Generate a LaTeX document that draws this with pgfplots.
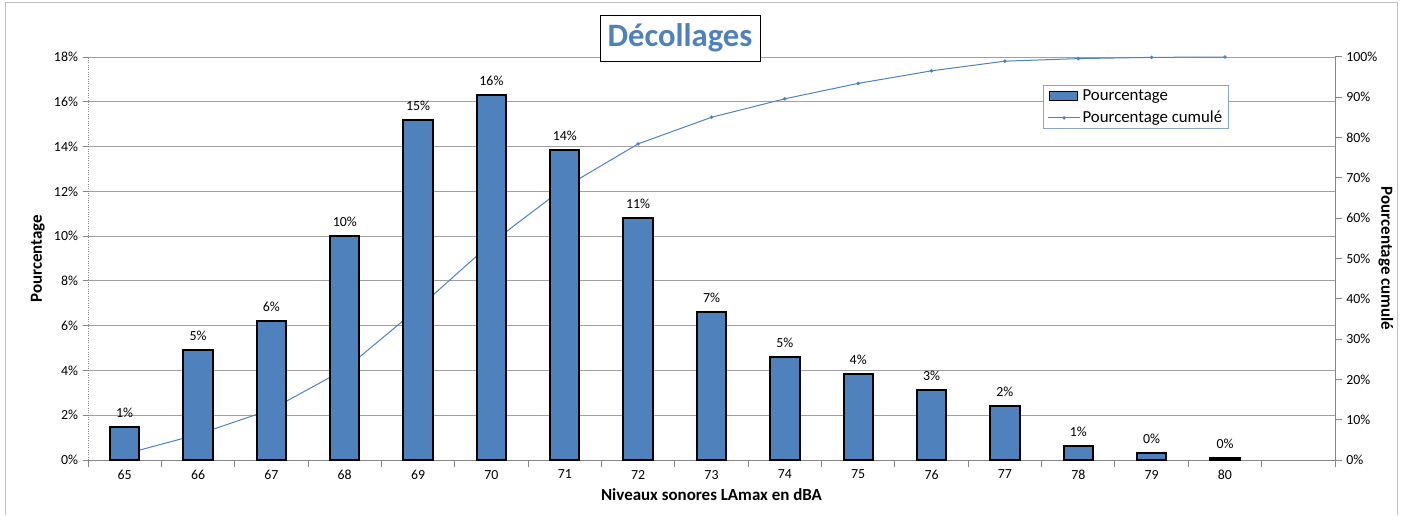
\documentclass[border=0pt]{standalone}
\usepackage{fontspec}
\setmainfont{Carlito}
\usepackage{pgfplots}
\usepackage{pgfplotstable}
\pgfplotsset{compat=1.18}

\definecolor{xlblue}{RGB}{79,129,189}
\definecolor{gridgray}{RGB}{160,160,160}
\definecolor{axgray}{RGB}{134,134,134}

% niveau, pourcentage, pourcentage cumule
\pgfplotstableread{
x   p      c
65  1.47   1.46
66  4.91   6.36
67  6.21   12.55
68  10.00  22.51
69  15.18  37.64
70  16.30  53.88
71  13.85  67.68
72  10.81  78.45
73  6.61   85.04
74  4.60   89.63
75  3.84   93.45
76  3.13   96.57
77  2.41   98.97
78  0.63   99.60
79  0.31   99.91
80  0.09   100.00
}\decollages

\pgfplotsset{
  base/.style={
    at={(66pt,41.25pt)}, anchor=south west,
    scale only axis, width=935.25pt, height=302.25pt,
    xmin=64.5, xmax=81.5,
    /pgf/number format/assume math mode=true,
    tick align=outside,
    ticklabel style={font=\fontsize{10.4}{12}\selectfont},
    label style={font=\bfseries\fontsize{12.7}{14}\selectfont},
  },
  barleg/.style={legend image code/.code={%
    \draw[##1, line width=1.2pt] (1pt,-3.5pt) rectangle (22pt,3.5pt);}},
  lineleg/.style={legend image code/.code={%
    \draw[##1, mark=none] (0pt,0pt) -- (24pt,0pt);
    \fill[xlblue] (12pt,0pt) circle (0.9pt);}},
}

\begin{document}
\begin{tikzpicture}
\useasboundingbox (0,0) rectangle (1051.5pt,386.25pt);
\draw[gray!50, line width=0.75pt] (3.75pt,0) -- (3.75pt,384pt) -- (1047.75pt,384pt) -- (1047.75pt,0);

% axe gauche, grille et axe des x
\begin{axis}[base,
  ymin=0, ymax=18,
  axis x line*=bottom, axis y line*=left,
  x axis line style={axgray, line width=0.75pt},
  y axis line style={axgray, densely dotted, line width=0.75pt},
  xtick={65,...,80},
  xticklabel={\pgfmathprintnumber{\tick}},
  major x tick style={draw=none},
  minor xtick={64.5,65.5,...,81.5},
  minor tick length=5pt,
  minor x tick style={axgray, line width=0.75pt},
  ytick={0,2,...,18},
  yticklabel={\pgfmathprintnumber{\tick}\%},
  major tick length=4pt,
  major y tick style={axgray, line width=0.75pt},
  ymajorgrids, grid style={gridgray, line width=0.75pt},
  xlabel={Niveaux sonores LAmax en dBA},
  ylabel={Pourcentage},
  title={Décollages},
  title style={at={(0.4747,1)}, anchor=south, yshift=-9.5pt,
    draw=black, fill=white, line width=0.6pt,
    minimum width=120pt, minimum height=34.5pt, inner sep=2pt,
    text=xlblue, font=\bfseries\fontsize{24.5}{28}\selectfont},
]
\addplot[draw=none, forget plot] table[x=x, y=p] {\decollages};
\end{axis}

% axe droit, pourcentage cumule (sous les barres)
\begin{axis}[base,
  ymin=0, ymax=100,
  axis x line=none, axis y line*=right,
  y axis line style={axgray, line width=0.75pt},
  ytick={0,10,...,100},
  yticklabel={\pgfmathprintnumber{\tick}\%},
  major tick length=5pt,
  major y tick style={axgray, line width=0.75pt},
  ylabel={Pourcentage cumulé},
  ylabel style={rotate=180},
  ylabel shift=-6pt,
]
\addplot[xlblue, line width=0.75pt, mark=*, mark size=0.9pt] table[x=x, y=c] {\decollages};
\end{axis}

% barres
\begin{axis}[base,
  ymin=0, ymax=18,
  hide axis,
  ybar, bar width=0.4,
  nodes near coords={\pgfmathprintnumber[fixed,precision=0]{\pgfplotspointmeta}\%},
  nodes near coords style={font=\fontsize{10.4}{12}\selectfont, yshift=3pt},
  legend style={at={(0.766,0.930)}, anchor=north west, draw=xlblue!70,
    line width=0.6pt, fill=white, font=\fontsize{12.6}{14}\selectfont,
    inner xsep=3pt, inner ysep=1pt, row sep=2.5pt, cells={anchor=west},
    nodes={inner xsep=1.5pt}},
  legend cell align=left,
]
\addplot[fill=xlblue, draw=black, line width=1.5pt, barleg]
  table[x=x, y=p] {\decollages};
\addlegendentry{Pourcentage}
\addlegendimage{xlblue, line width=0.75pt, lineleg}
\addlegendentry{Pourcentage cumulé}
\end{axis}
\end{tikzpicture}
\end{document}
